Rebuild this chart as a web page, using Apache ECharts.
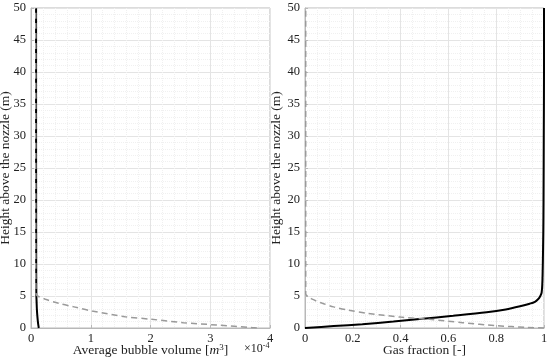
<!DOCTYPE html>
<html>
<head>
<meta charset="utf-8">
<script src="https://cdn.jsdelivr.net/npm/echarts@6/dist/echarts.min.js"></script>
<style>html,body{margin:0;padding:0;background:#fff}#c{width:550px;height:362px}</style>
</head>
<body>
<div id="c"></div>
<script>
// Heights (m) and values
var volBlackH = [0, 0.5, 1, 2, 3, 4, 5, 7, 10, 20, 30, 40, 50];
var volBlackX = [0.13, 0.122, 0.115, 0.105, 0.098, 0.094, 0.09, 0.088, 0.087, 0.086, 0.085, 0.085, 0.085]; // x1e-4 m^3
var volGrayH = [0, 0.05, 0.47, 0.83, 1.36, 1.77, 2.66, 3.3, 3.86, 4.5, 5.0, 5.3, 10, 20, 30, 40, 50];
var volGrayX = [3.78, 3.71, 3.1, 2.55, 2.02, 1.575, 1.02, 0.72, 0.46, 0.24, 0.11, 0.085, 0.08, 0.08, 0.08, 0.08, 0.08];

var gasBlackH = [0, 0.3, 0.6, 1.0, 1.4, 1.9, 2.45, 2.9, 3.4, 3.8, 4.1, 4.5, 4.9, 5.5, 7, 10, 15, 20, 30, 40, 50];
var gasBlackX = [0, 0.12, 0.24, 0.37, 0.48, 0.62, 0.76, 0.84, 0.90, 0.94, 0.962, 0.975, 0.983, 0.99, 0.993, 0.995, 0.997, 0.998, 0.999, 1.0, 1.0];
var gasGrayH = [0, 0.1, 0.36, 0.83, 1.36, 1.7, 2.3, 2.8, 3.3, 3.9, 4.5, 5.0, 5.3, 10, 20, 30, 40, 50];
var gasGrayX = [1.0, 0.93, 0.80, 0.66, 0.52, 0.40, 0.26, 0.18, 0.12, 0.07, 0.03, 0.01, 0.003, 0.003, 0.003, 0.003, 0.003, 0.003];

var yTicks = [0, 5, 10, 15, 20, 25, 30, 35, 40, 45, 50];
var volTicks = [0, 1, 2, 3, 4];
var gasTicks = [0, 0.2, 0.4, 0.6, 0.8, 1];

function zip(xs, hs) { return xs.map(function (x, i) { return [x, hs[i]]; }); }

var FONT = 'Liberation Serif';
var axisCol = '#b8b8b8';
function xAx(idx, min, max, interval, name) {
  return {
    gridIndex: idx, type: 'value', min: min, max: max, interval: interval,
    name: name, nameLocation: 'middle', nameGap: 15, nameMoveOverlap: false,
    nameTextStyle: { fontFamily: FONT, fontSize: 13.5, color: '#222', verticalAlign: 'top',
      rich: { i: { fontFamily: FONT, fontStyle: 'italic', fontSize: 13.5, color: '#222' },
              sup: { fontFamily: FONT, fontSize: 9, color: '#222', verticalAlign: 'top', padding: [0, 0, 6, 0] } } },
    axisLine: { show: true, lineStyle: { color: axisCol, width: 1 } },
    axisTick: { show: true, inside: true, length: 3, lineStyle: { color: axisCol } },
    minorTick: { show: false, splitNumber: 5 },
    axisLabel: { fontFamily: FONT, fontSize: 12.5, color: '#222', margin: 4,
      formatter: function (v) { return String(Math.round(v * 100) / 100); } },
    splitLine: { show: true, lineStyle: { color: '#e4e4e4', width: 1 } },
    minorSplitLine: { show: true, lineStyle: { color: '#f0f0f0', width: 1, type: [1, 1] } }
  };
}
function yAx(idx, gap) {
  return {
    gridIndex: idx, type: 'value', min: 0, max: 50, interval: 5,
    name: 'Height above the nozzle (m)', nameLocation: 'middle', nameGap: gap, nameMoveOverlap: false,
    nameTextStyle: { fontFamily: FONT, fontSize: 13.5, color: '#222' },
    axisLine: { show: true, lineStyle: { color: axisCol, width: 1 } },
    axisTick: { show: true, inside: true, length: 3, lineStyle: { color: axisCol } },
    minorTick: { show: false, splitNumber: 5 },
    axisLabel: { fontFamily: FONT, fontSize: 12.5, color: '#222', margin: 5 },
    splitLine: { show: true, lineStyle: { color: '#e4e4e4', width: 1 } },
    minorSplitLine: { show: true, lineStyle: { color: '#f0f0f0', width: 1, type: [1, 1] } }
  };
}
var gasX = xAx(1, 0, 1, 0.2, 'Gas fraction [-]');
gasX.minorTick.splitNumber = 4;
var volX = xAx(0, 0, 4, 1, 'Average bubble volume [{i|m}{sup|3}]');

var chart = echarts.init(document.getElementById('c'), null, { renderer: 'canvas' });
chart.setOption({
  animation: false,
  backgroundColor: '#fff',
  grid: [
    { left: 31, right: 280, top: 8, bottom: 34, outerBoundsMode: 'none', containLabel: false, show: true, borderColor: axisCol, borderWidth: 1, backgroundColor: 'transparent' },
    { left: 305, right: 6, top: 8, bottom: 34, outerBoundsMode: 'none', containLabel: false, show: true, borderColor: axisCol, borderWidth: 1, backgroundColor: 'transparent' }
  ],
  xAxis: [volX, gasX],
  yAxis: [yAx(0, 19), yAx(1, 22)],
  graphic: [{
    type: 'text', left: 244, top: 342,
    style: { rich: { a: { fontFamily: FONT, fontSize: 12, fill: '#222' }, s: { fontFamily: FONT, fontSize: 8, fill: '#222', verticalAlign: 'top', padding: [0, 0, 6, 0] } },
             text: '{a|×10}{s|-4}' }
  }],
  series: [
    { type: 'line', xAxisIndex: 0, yAxisIndex: 0, data: zip(volBlackX, volBlackH), showSymbol: false, smooth: 0.3,
      lineStyle: { color: '#000', width: 2 } },
    { type: 'line', xAxisIndex: 0, yAxisIndex: 0, data: zip(volGrayX, volGrayH), showSymbol: false, smooth: 0.3,
      lineStyle: { color: '#9a9a9a', width: 1.5, type: [6, 4] } },
    { type: 'line', xAxisIndex: 1, yAxisIndex: 1, data: zip(gasBlackX, gasBlackH), showSymbol: false, smooth: 0.3,
      lineStyle: { color: '#000', width: 2 } },
    { type: 'line', xAxisIndex: 1, yAxisIndex: 1, data: zip(gasGrayX, gasGrayH), showSymbol: false, smooth: 0.3,
      lineStyle: { color: '#9a9a9a', width: 1.5, type: [6, 4] } }
  ]
});
</script>
</body>
</html>
